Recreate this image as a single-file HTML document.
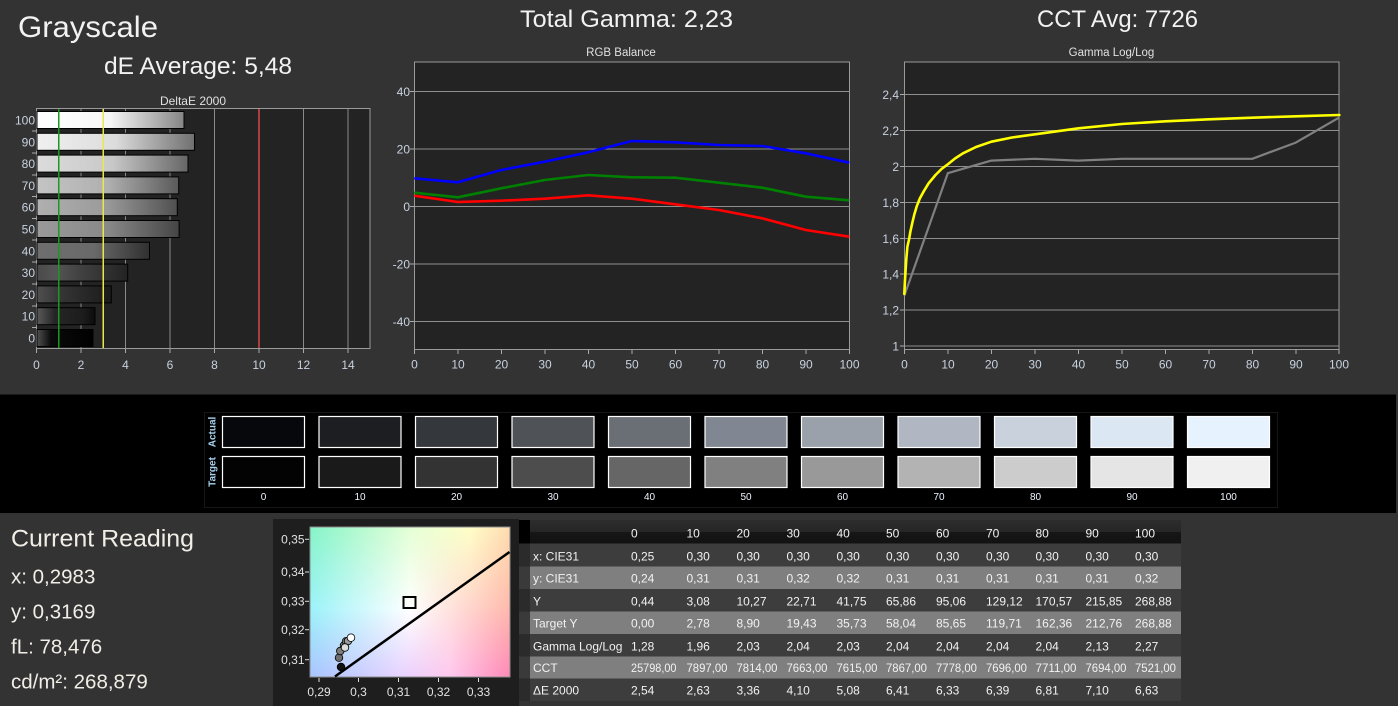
<!DOCTYPE html>
<html><head><meta charset="utf-8"><style>
html,body{margin:0;padding:0;background:#333;}
svg{display:block;font-family:"Liberation Sans",sans-serif;}
</style></head><body>
<svg width="1398" height="706" viewBox="0 0 1398 706" xmlns="http://www.w3.org/2000/svg">
<defs>
<linearGradient id="b0" x1="0" x2="1" y1="0" y2="0"><stop offset="0" stop-color="#ffffff"/><stop offset="0.5" stop-color="#f6f6f6"/><stop offset="1" stop-color="#858585"/></linearGradient>
<linearGradient id="b1" x1="0" x2="1" y1="0" y2="0"><stop offset="0" stop-color="#f0f0f0"/><stop offset="0.5" stop-color="#dcdcdc"/><stop offset="1" stop-color="#707070"/></linearGradient>
<linearGradient id="b2" x1="0" x2="1" y1="0" y2="0"><stop offset="0" stop-color="#dcdcdc"/><stop offset="0.5" stop-color="#c8c8c8"/><stop offset="1" stop-color="#666666"/></linearGradient>
<linearGradient id="b3" x1="0" x2="1" y1="0" y2="0"><stop offset="0" stop-color="#c4c4c4"/><stop offset="0.5" stop-color="#b0b0b0"/><stop offset="1" stop-color="#5a5a5a"/></linearGradient>
<linearGradient id="b4" x1="0" x2="1" y1="0" y2="0"><stop offset="0" stop-color="#b0b0b0"/><stop offset="0.5" stop-color="#9a9a9a"/><stop offset="1" stop-color="#505050"/></linearGradient>
<linearGradient id="b5" x1="0" x2="1" y1="0" y2="0"><stop offset="0" stop-color="#9a9a9a"/><stop offset="0.5" stop-color="#888888"/><stop offset="1" stop-color="#454545"/></linearGradient>
<linearGradient id="b6" x1="0" x2="1" y1="0" y2="0"><stop offset="0" stop-color="#6e6e6e"/><stop offset="0.5" stop-color="#6a6a6a"/><stop offset="1" stop-color="#303030"/></linearGradient>
<linearGradient id="b7" x1="0" x2="1" y1="0" y2="0"><stop offset="0" stop-color="#4a4a4a"/><stop offset="0.2" stop-color="#555555"/><stop offset="0.5" stop-color="#404040"/><stop offset="1" stop-color="#232323"/></linearGradient>
<linearGradient id="b8" x1="0" x2="1" y1="0" y2="0"><stop offset="0" stop-color="#505050"/><stop offset="0.3" stop-color="#363636"/><stop offset="1" stop-color="#1a1a1a"/></linearGradient>
<linearGradient id="b9" x1="0" x2="1" y1="0" y2="0"><stop offset="0" stop-color="#5a5a5a"/><stop offset="0.3" stop-color="#262626"/><stop offset="0.8" stop-color="#1c1c1c"/><stop offset="1" stop-color="#0c0c0c"/></linearGradient>
<linearGradient id="b10" x1="0" x2="1" y1="0" y2="0"><stop offset="0" stop-color="#505050"/><stop offset="0.25" stop-color="#0a0a0a"/><stop offset="1" stop-color="#000000"/></linearGradient>

<linearGradient id="cTop" x1="0" x2="1" y1="0" y2="0"><stop offset="0" stop-color="#86f5c8"/><stop offset="0.5" stop-color="#e4ffd6"/><stop offset="0.8" stop-color="#ffffc8"/><stop offset="1" stop-color="#ffdcb0"/></linearGradient>
<linearGradient id="cMid" x1="0" x2="1" y1="0" y2="0"><stop offset="0" stop-color="#9cf2fa"/><stop offset="0.5" stop-color="#ffffff"/><stop offset="1" stop-color="#ffb8ac"/></linearGradient>
<linearGradient id="cBot" x1="0" x2="1" y1="0" y2="0"><stop offset="0" stop-color="#a8c4ff"/><stop offset="0.45" stop-color="#e6d2ff"/><stop offset="0.7" stop-color="#ffc8ee"/><stop offset="1" stop-color="#ff88b6"/></linearGradient>
<linearGradient id="vMid" x1="0" x2="0" y1="0" y2="1"><stop offset="0" stop-color="#000"/><stop offset="0.55" stop-color="#fff"/><stop offset="1" stop-color="#fff"/></linearGradient>
<linearGradient id="vBot" x1="0" x2="0" y1="0" y2="1"><stop offset="0" stop-color="#000"/><stop offset="0.55" stop-color="#000"/><stop offset="1" stop-color="#fff"/></linearGradient>
<mask id="mMid"><rect x="310" y="527" width="200" height="150" fill="url(#vMid)"/></mask>
<mask id="mBot"><rect x="310" y="527" width="200" height="150" fill="url(#vBot)"/></mask>
<linearGradient id="hdr" x1="0" x2="0" y1="0" y2="1"><stop offset="0" stop-color="#2d2d2d"/><stop offset="0.5" stop-color="#262626"/><stop offset="0.52" stop-color="#161616"/><stop offset="1" stop-color="#121212"/></linearGradient>
</defs>

<rect width="1398" height="706" fill="#333"/>

<!-- Headings -->
<text x="18" y="37" font-size="30" fill="#f2f2f2" textLength="140" lengthAdjust="spacingAndGlyphs">Grayscale</text>
<text x="104" y="74" font-size="24" fill="#f2f2f2" textLength="188" lengthAdjust="spacingAndGlyphs">dE Average: 5,48</text>
<text x="520" y="27" font-size="24" fill="#f2f2f2" textLength="213" lengthAdjust="spacingAndGlyphs">Total Gamma: 2,23</text>
<text x="1037" y="27" font-size="24" fill="#f2f2f2" textLength="161" lengthAdjust="spacingAndGlyphs">CCT Avg: 7726</text>

<!-- DeltaE chart -->
<text x="193" y="105" font-size="12" fill="#e0e0e0" text-anchor="middle">DeltaE 2000</text>
<rect x="36.5" y="108.5" width="333.5" height="240" fill="#232323" stroke="#9a9a9a" stroke-width="1"/>
<g stroke="#8a8a8a" stroke-width="1">
<line x1="81" y1="109" x2="81" y2="348"/>
<line x1="125.5" y1="109" x2="125.5" y2="348"/>
<line x1="170" y1="109" x2="170" y2="348"/>
<line x1="214.5" y1="109" x2="214.5" y2="348"/>
<line x1="303.5" y1="109" x2="303.5" y2="348"/>
<line x1="348" y1="109" x2="348" y2="348"/>
</g>
<g stroke="#000" stroke-width="1">
<rect x="37" y="111.5" width="147" height="17" fill="url(#b0)"/>
<rect x="37" y="133.3" width="157.5" height="17" fill="url(#b1)"/>
<rect x="37" y="155.1" width="151" height="17" fill="url(#b2)"/>
<rect x="37" y="176.9" width="141.7" height="17" fill="url(#b3)"/>
<rect x="37" y="198.7" width="140.3" height="17" fill="url(#b4)"/>
<rect x="37" y="220.5" width="142.1" height="17" fill="url(#b5)"/>
<rect x="37" y="242.3" width="112.5" height="17" fill="url(#b6)"/>
<rect x="37" y="264.1" width="90.7" height="17" fill="url(#b7)"/>
<rect x="37" y="285.9" width="74.3" height="17" fill="url(#b8)"/>
<rect x="37" y="307.7" width="58" height="17" fill="url(#b9)"/>
<rect x="37" y="329.5" width="56" height="17" fill="url(#b10)"/>
</g>
<line x1="58.75" y1="109" x2="58.75" y2="348" stroke="#1a9a1a" stroke-width="1.5"/>
<line x1="103.25" y1="109" x2="103.25" y2="348" stroke="#e8e84a" stroke-width="1.5"/>
<line x1="259" y1="109" x2="259" y2="348" stroke="#d84848" stroke-width="1.5"/>
<g stroke="#aaa" stroke-width="1">
<line x1="36.5" y1="348.5" x2="36.5" y2="353"/><line x1="81" y1="348.5" x2="81" y2="353"/><line x1="125.5" y1="348.5" x2="125.5" y2="353"/><line x1="170" y1="348.5" x2="170" y2="353"/><line x1="214.5" y1="348.5" x2="214.5" y2="353"/><line x1="259" y1="348.5" x2="259" y2="353"/><line x1="303.5" y1="348.5" x2="303.5" y2="353"/><line x1="348" y1="348.5" x2="348" y2="353"/>
<line x1="32" y1="131" x2="36.5" y2="131"/><line x1="32" y1="153" x2="36.5" y2="153"/><line x1="32" y1="175" x2="36.5" y2="175"/><line x1="32" y1="196.5" x2="36.5" y2="196.5"/><line x1="32" y1="218.5" x2="36.5" y2="218.5"/><line x1="32" y1="240" x2="36.5" y2="240"/><line x1="32" y1="262" x2="36.5" y2="262"/><line x1="32" y1="284" x2="36.5" y2="284"/><line x1="32" y1="306" x2="36.5" y2="306"/><line x1="32" y1="327.5" x2="36.5" y2="327.5"/>
</g>
<g font-size="12" fill="#c8d2e0" text-anchor="end">
<text x="35" y="124.5">100</text><text x="35" y="146.3">90</text><text x="35" y="168.1">80</text><text x="35" y="189.9">70</text><text x="35" y="211.7">60</text><text x="35" y="233.5">50</text><text x="35" y="255.3">40</text><text x="35" y="277.1">30</text><text x="35" y="298.9">20</text><text x="35" y="320.7">10</text><text x="35" y="342.5">0</text>
</g>
<g font-size="12" fill="#c8d2e0" text-anchor="middle">
<text x="36.5" y="369">0</text><text x="81" y="369">2</text><text x="125.5" y="369">4</text><text x="170" y="369">6</text><text x="214.5" y="369">8</text><text x="259" y="369">10</text><text x="303.5" y="369">12</text><text x="348" y="369">14</text>
</g>

<!-- RGB Balance -->
<text x="621" y="56" font-size="11.5" fill="#e0e0e0" text-anchor="middle">RGB Balance</text>
<rect x="414.5" y="62" width="435" height="287.5" fill="#232323" stroke="#9a9a9a" stroke-width="1"/>
<g stroke="#8f8f8f" stroke-width="1">
<line x1="414.5" y1="91.5" x2="849.5" y2="91.5"/><line x1="414.5" y1="149" x2="849.5" y2="149"/><line x1="414.5" y1="206.5" x2="849.5" y2="206.5"/><line x1="414.5" y1="264" x2="849.5" y2="264"/><line x1="414.5" y1="321.5" x2="849.5" y2="321.5"/>
</g>
<g stroke="#aaa" stroke-width="1">
<line x1="410" y1="91.5" x2="414.5" y2="91.5"/><line x1="410" y1="149" x2="414.5" y2="149"/><line x1="410" y1="206.5" x2="414.5" y2="206.5"/><line x1="410" y1="264" x2="414.5" y2="264"/><line x1="410" y1="321.5" x2="414.5" y2="321.5"/>
<line x1="414.5" y1="349.5" x2="414.5" y2="354"/><line x1="458" y1="349.5" x2="458" y2="354"/><line x1="501.5" y1="349.5" x2="501.5" y2="354"/><line x1="545" y1="349.5" x2="545" y2="354"/><line x1="588.5" y1="349.5" x2="588.5" y2="354"/><line x1="632" y1="349.5" x2="632" y2="354"/><line x1="675.5" y1="349.5" x2="675.5" y2="354"/><line x1="719" y1="349.5" x2="719" y2="354"/><line x1="762.5" y1="349.5" x2="762.5" y2="354"/><line x1="806" y1="349.5" x2="806" y2="354"/><line x1="849.5" y1="349.5" x2="849.5" y2="354"/>
</g>
<g font-size="12" fill="#c8d2e0" text-anchor="end">
<text x="410" y="96">40</text><text x="410" y="153.5">20</text><text x="410" y="211">0</text><text x="410" y="268.5">-20</text><text x="410" y="326">-40</text>
</g>
<g font-size="12" fill="#c8d2e0" text-anchor="middle">
<text x="414.5" y="368.5">0</text><text x="458" y="368.5">10</text><text x="501.5" y="368.5">20</text><text x="545" y="368.5">30</text><text x="588.5" y="368.5">40</text><text x="632" y="368.5">50</text><text x="675.5" y="368.5">60</text><text x="719" y="368.5">70</text><text x="762.5" y="368.5">80</text><text x="806" y="368.5">90</text><text x="849.5" y="368.5">100</text>
</g>
<g fill="none" stroke-width="2.6" stroke-linejoin="round">
<polyline stroke="#0000ff" points="414.3,178.3 457.8,182.3 501.3,170 544.8,161.7 588.3,152.3 631.8,141 675.3,142.3 718.8,145 762.3,146 805.8,153.3 849.3,162.7"/>
<polyline stroke="#008000" points="414.3,192.7 457.8,197.3 501.3,188.3 544.8,180 588.3,175 631.8,177.3 675.3,177.7 718.8,182.7 762.3,187.7 805.8,196.7 849.3,200.3"/>
<polyline stroke="#ff0000" points="414.3,195.7 457.8,202 501.3,200.7 544.8,198.7 588.3,195.3 631.8,198.7 675.3,204.3 718.8,210 762.3,218.3 805.8,230 849.3,236.7"/>
</g>

<!-- Gamma chart -->
<text x="1111.5" y="56" font-size="11.5" fill="#e0e0e0" text-anchor="middle">Gamma Log/Log</text>
<rect x="904.5" y="62" width="434.5" height="287.5" fill="#232323" stroke="#9a9a9a" stroke-width="1"/>
<g stroke="#8f8f8f" stroke-width="1">
<line x1="904.5" y1="346" x2="1339" y2="346"/><line x1="904.5" y1="310" x2="1339" y2="310"/><line x1="904.5" y1="274" x2="1339" y2="274"/><line x1="904.5" y1="238.5" x2="1339" y2="238.5"/><line x1="904.5" y1="202.5" x2="1339" y2="202.5"/><line x1="904.5" y1="166.5" x2="1339" y2="166.5"/><line x1="904.5" y1="130.5" x2="1339" y2="130.5"/><line x1="904.5" y1="94.5" x2="1339" y2="94.5"/>
</g>
<g stroke="#aaa" stroke-width="1">
<line x1="900" y1="346" x2="904.5" y2="346"/><line x1="900" y1="310" x2="904.5" y2="310"/><line x1="900" y1="274" x2="904.5" y2="274"/><line x1="900" y1="238.5" x2="904.5" y2="238.5"/><line x1="900" y1="202.5" x2="904.5" y2="202.5"/><line x1="900" y1="166.5" x2="904.5" y2="166.5"/><line x1="900" y1="130.5" x2="904.5" y2="130.5"/><line x1="900" y1="94.5" x2="904.5" y2="94.5"/>
<line x1="904.5" y1="349.5" x2="904.5" y2="354"/><line x1="948" y1="349.5" x2="948" y2="354"/><line x1="991.5" y1="349.5" x2="991.5" y2="354"/><line x1="1035" y1="349.5" x2="1035" y2="354"/><line x1="1078.5" y1="349.5" x2="1078.5" y2="354"/><line x1="1122" y1="349.5" x2="1122" y2="354"/><line x1="1165.5" y1="349.5" x2="1165.5" y2="354"/><line x1="1209" y1="349.5" x2="1209" y2="354"/><line x1="1252.5" y1="349.5" x2="1252.5" y2="354"/><line x1="1296" y1="349.5" x2="1296" y2="354"/><line x1="1339" y1="349.5" x2="1339" y2="354"/>
</g>
<g font-size="12" fill="#c8d2e0" text-anchor="end">
<text x="899" y="350.5">1</text><text x="899" y="314.5">1,2</text><text x="899" y="278.5">1,4</text><text x="899" y="243">1,6</text><text x="899" y="207">1,8</text><text x="899" y="171">2</text><text x="899" y="135">2,2</text><text x="899" y="99">2,4</text>
</g>
<g font-size="12" fill="#c8d2e0" text-anchor="middle">
<text x="904.5" y="368.5">0</text><text x="948" y="368.5">10</text><text x="991.5" y="368.5">20</text><text x="1035" y="368.5">30</text><text x="1078.5" y="368.5">40</text><text x="1122" y="368.5">50</text><text x="1165.5" y="368.5">60</text><text x="1209" y="368.5">70</text><text x="1252.5" y="368.5">80</text><text x="1296" y="368.5">90</text><text x="1339" y="368.5">100</text>
</g>
<polyline fill="none" stroke="#808080" stroke-width="2.2" stroke-linejoin="round" points="904.3,295.6 947.8,173.2 991.3,160.6 1034.8,158.8 1078.3,160.6 1121.8,158.8 1165.3,158.8 1208.8,158.8 1252.3,158.8 1295.8,142.6 1339.3,117.4"/>
<polyline fill="none" stroke="#ffff00" stroke-width="2.6" stroke-linejoin="round" stroke-linecap="round" points="904.3,294 904.9,282 905.6,270 906.4,258 907.4,246.7 909.1,239 910.5,231 912.2,223.3 914.3,214.5 916.6,206.7 919.8,198.5 923.5,191.7 928.6,183.3 935.5,175 941.5,169 948.2,164 955,158.5 963,153.3 976,147 991.4,141.7 1012,137.5 1035,134.3 1078.6,128.3 1121.8,124 1165.4,121.3 1209,119.3 1252.6,117.7 1295.8,116.3 1339.4,115"/>

<!-- Swatch band -->
<rect x="0" y="394.5" width="1396" height="118.5" fill="#000"/>
<rect x="204.5" y="412.5" width="1073" height="95" fill="none" stroke="#161616" stroke-width="1"/>
<g font-size="10" font-weight="bold" fill="#a8d4ee" text-anchor="middle">
<text transform="translate(215.5,432) rotate(-90)">Actual</text>
<text transform="translate(215.5,472) rotate(-90)">Target</text>
</g>
<g stroke="#ffffff" stroke-width="1.2">
<rect x="222.5" y="416.5" width="82" height="31" fill="#06080c"/>
<rect x="319" y="416.5" width="82" height="31" fill="#1c1e21"/>
<rect x="415.5" y="416.5" width="82" height="31" fill="#34383c"/>
<rect x="512" y="416.5" width="82" height="31" fill="#4f5358"/>
<rect x="608.5" y="416.5" width="82" height="31" fill="#6a6e75"/>
<rect x="705" y="416.5" width="82" height="31" fill="#818792"/>
<rect x="801.5" y="416.5" width="82" height="31" fill="#9aa1ab"/>
<rect x="898" y="416.5" width="82" height="31" fill="#b0b7c3"/>
<rect x="994.5" y="416.5" width="82" height="31" fill="#c8d1dc"/>
<rect x="1091" y="416.5" width="82" height="31" fill="#dce7f4"/>
<rect x="1187.5" y="416.5" width="82" height="31" fill="#e6f2fd"/>
<rect x="222.5" y="456.5" width="82" height="31" fill="#030303"/>
<rect x="319" y="456.5" width="82" height="31" fill="#1a1a1a"/>
<rect x="415.5" y="456.5" width="82" height="31" fill="#333333"/>
<rect x="512" y="456.5" width="82" height="31" fill="#4d4d4d"/>
<rect x="608.5" y="456.5" width="82" height="31" fill="#666666"/>
<rect x="705" y="456.5" width="82" height="31" fill="#808080"/>
<rect x="801.5" y="456.5" width="82" height="31" fill="#999999"/>
<rect x="898" y="456.5" width="82" height="31" fill="#b3b3b3"/>
<rect x="994.5" y="456.5" width="82" height="31" fill="#cccccc"/>
<rect x="1091" y="456.5" width="82" height="31" fill="#e5e5e5"/>
<rect x="1187.5" y="456.5" width="82" height="31" fill="#f0f0f0"/>
</g>
<g font-size="10" fill="#eef6ff" text-anchor="middle">
<text x="263.5" y="500">0</text><text x="360" y="500">10</text><text x="456.5" y="500">20</text><text x="553" y="500">30</text><text x="649.5" y="500">40</text><text x="746" y="500">50</text><text x="842.5" y="500">60</text><text x="939" y="500">70</text><text x="1035.5" y="500">80</text><text x="1132" y="500">90</text><text x="1228.5" y="500">100</text>
</g>

<!-- Current reading -->
<g fill="#f0eee6">
<text x="11" y="546.7" font-size="24" textLength="183" lengthAdjust="spacingAndGlyphs">Current Reading</text>
<text x="11" y="583.3" font-size="20.5">x: 0,2983</text>
<text x="11" y="618.3" font-size="20.5">y: 0,3169</text>
<text x="11" y="653.3" font-size="20.5">fL: 78,476</text>
<text x="11" y="688.3" font-size="20.5">cd/m²: 268,879</text>
</g>

<!-- CIE panel -->
<rect x="273" y="519" width="246" height="187" fill="#1e1e1e"/>
<rect x="310" y="527" width="200" height="150" fill="url(#cTop)"/>
<rect x="310" y="527" width="200" height="150" fill="url(#cMid)" mask="url(#mMid)"/>
<rect x="310" y="527" width="200" height="150" fill="url(#cBot)" mask="url(#mBot)"/>
<rect x="310" y="527" width="200" height="150" fill="none" stroke="#8a8a8a" stroke-width="1"/>
<line x1="335" y1="676.5" x2="509.5" y2="552" stroke="#000" stroke-width="2.5"/>
<rect x="403.5" y="597" width="12" height="11" fill="none" stroke="#000" stroke-width="2"/>
<g stroke="#000" stroke-width="0.8">
<circle cx="341" cy="667" r="3.8" fill="#111"/>
<circle cx="339" cy="657.7" r="3.8" fill="#6e6e6e"/>
<circle cx="340.3" cy="651" r="3.8" fill="#7c7c7c"/>
<circle cx="344" cy="645.5" r="3.8" fill="#888"/>
<circle cx="346" cy="641.3" r="3.8" fill="#777"/>
<circle cx="348" cy="641" r="3.8" fill="#999"/>
<circle cx="345" cy="647.5" r="3.8" fill="#ddd"/>
<circle cx="351" cy="637.7" r="3.8" fill="#fff"/>
</g>
<g stroke="#ddd" stroke-width="1">
<line x1="305" y1="539.3" x2="309" y2="539.3"/><line x1="305" y1="572" x2="309" y2="572"/><line x1="305" y1="601.3" x2="309" y2="601.3"/><line x1="305" y1="629.7" x2="309" y2="629.7"/><line x1="305" y1="659.7" x2="309" y2="659.7"/>
<line x1="319" y1="678" x2="319" y2="682"/><line x1="358.5" y1="678" x2="358.5" y2="682"/><line x1="398.5" y1="678" x2="398.5" y2="682"/><line x1="438.5" y1="678" x2="438.5" y2="682"/><line x1="478.5" y1="678" x2="478.5" y2="682"/>
</g>
<g font-size="12" fill="#e2e2e2" text-anchor="end">
<text x="304.5" y="543.5">0,35</text><text x="304.5" y="576.2">0,34</text><text x="304.5" y="605.5">0,33</text><text x="304.5" y="634">0,32</text><text x="304.5" y="664">0,31</text>
</g>
<g font-size="12" fill="#e2e2e2" text-anchor="middle">
<text x="319" y="696">0,29</text><text x="358.5" y="696">0,3</text><text x="398.5" y="696">0,31</text><text x="438.5" y="696">0,32</text><text x="478.5" y="696">0,33</text>
</g>

<!-- Table -->
<rect x="519" y="520" width="11" height="23.5" fill="#000"/>
<rect x="530" y="520" width="651" height="23.5" fill="url(#hdr)"/>
<g>
<rect x="519" y="543.5" width="11" height="23" fill="#2b2b2b"/><rect x="530" y="543.5" width="651" height="23" fill="#3d3d3d"/>
<rect x="519" y="566.5" width="11" height="22.5" fill="#3a3a3a"/><rect x="530" y="566.5" width="651" height="22.5" fill="#7f7f7f"/>
<rect x="519" y="589" width="11" height="22.5" fill="#2b2b2b"/><rect x="530" y="589" width="651" height="22.5" fill="#3d3d3d"/>
<rect x="519" y="611.5" width="11" height="22.5" fill="#3a3a3a"/><rect x="530" y="611.5" width="651" height="22.5" fill="#7f7f7f"/>
<rect x="519" y="634" width="11" height="22.5" fill="#2b2b2b"/><rect x="530" y="634" width="651" height="22.5" fill="#3d3d3d"/>
<rect x="519" y="656.5" width="11" height="22" fill="#3a3a3a"/><rect x="530" y="656.5" width="651" height="22" fill="#7f7f7f"/>
<rect x="519" y="678.5" width="11" height="22.5" fill="#2b2b2b"/><rect x="530" y="678.5" width="651" height="22.5" fill="#3d3d3d"/>
</g>
<g font-size="12" fill="#f2f2f2">
<text x="631" y="537.5">0</text><text x="686.5" y="537.5">10</text><text x="736.5" y="537.5">20</text><text x="786.5" y="537.5">30</text><text x="836.5" y="537.5">40</text><text x="886" y="537.5">50</text><text x="936" y="537.5">60</text><text x="986" y="537.5">70</text><text x="1035.5" y="537.5">80</text><text x="1085.5" y="537.5">90</text><text x="1135" y="537.5">100</text>

<text x="533" y="560.3">x: CIE31</text>
<text x="631" y="560.3">0,25</text><text x="686.5" y="560.3">0,30</text><text x="736.5" y="560.3">0,30</text><text x="786.5" y="560.3">0,30</text><text x="836.5" y="560.3">0,30</text><text x="886" y="560.3">0,30</text><text x="936" y="560.3">0,30</text><text x="986" y="560.3">0,30</text><text x="1035.5" y="560.3">0,30</text><text x="1085.5" y="560.3">0,30</text><text x="1135" y="560.3">0,30</text>

<text x="533" y="582.6">y: CIE31</text>
<text x="631" y="582.6">0,24</text><text x="686.5" y="582.6">0,31</text><text x="736.5" y="582.6">0,31</text><text x="786.5" y="582.6">0,32</text><text x="836.5" y="582.6">0,32</text><text x="886" y="582.6">0,31</text><text x="936" y="582.6">0,31</text><text x="986" y="582.6">0,31</text><text x="1035.5" y="582.6">0,31</text><text x="1085.5" y="582.6">0,31</text><text x="1135" y="582.6">0,32</text>

<text x="533" y="605.3">Y</text>
<text x="631" y="605.3">0,44</text><text x="686.5" y="605.3">3,08</text><text x="736.5" y="605.3">10,27</text><text x="786.5" y="605.3">22,71</text><text x="836.5" y="605.3">41,75</text><text x="886" y="605.3">65,86</text><text x="936" y="605.3">95,06</text><text x="986" y="605.3">129,12</text><text x="1035.5" y="605.3">170,57</text><text x="1085.5" y="605.3">215,85</text><text x="1135" y="605.3">268,88</text>

<text x="533" y="627.6">Target Y</text>
<text x="631" y="627.6">0,00</text><text x="686.5" y="627.6">2,78</text><text x="736.5" y="627.6">8,90</text><text x="786.5" y="627.6">19,43</text><text x="836.5" y="627.6">35,73</text><text x="886" y="627.6">58,04</text><text x="936" y="627.6">85,65</text><text x="986" y="627.6">119,71</text><text x="1035.5" y="627.6">162,36</text><text x="1085.5" y="627.6">212,76</text><text x="1135" y="627.6">268,88</text>

<text x="533" y="650.3">Gamma Log/Log</text>
<text x="631" y="650.3">1,28</text><text x="686.5" y="650.3">1,96</text><text x="736.5" y="650.3">2,03</text><text x="786.5" y="650.3">2,04</text><text x="836.5" y="650.3">2,03</text><text x="886" y="650.3">2,04</text><text x="936" y="650.3">2,04</text><text x="986" y="650.3">2,04</text><text x="1035.5" y="650.3">2,04</text><text x="1085.5" y="650.3">2,13</text><text x="1135" y="650.3">2,27</text>

<text x="533" y="672">CCT</text>
<text x="631" y="672" textLength="45.5" lengthAdjust="spacingAndGlyphs">25798,00</text><text x="686.5" y="672" textLength="41" lengthAdjust="spacingAndGlyphs">7897,00</text><text x="736.5" y="672" textLength="41" lengthAdjust="spacingAndGlyphs">7814,00</text><text x="786.5" y="672" textLength="41" lengthAdjust="spacingAndGlyphs">7663,00</text><text x="836.5" y="672" textLength="41" lengthAdjust="spacingAndGlyphs">7615,00</text><text x="886" y="672" textLength="41" lengthAdjust="spacingAndGlyphs">7867,00</text><text x="936" y="672" textLength="41" lengthAdjust="spacingAndGlyphs">7778,00</text><text x="986" y="672" textLength="41" lengthAdjust="spacingAndGlyphs">7696,00</text><text x="1035.5" y="672" textLength="41" lengthAdjust="spacingAndGlyphs">7711,00</text><text x="1085.5" y="672" textLength="41" lengthAdjust="spacingAndGlyphs">7694,00</text><text x="1135" y="672" textLength="41" lengthAdjust="spacingAndGlyphs">7521,00</text>

<text x="533" y="694.3">ΔE 2000</text>
<text x="631" y="694.3">2,54</text><text x="686.5" y="694.3">2,63</text><text x="736.5" y="694.3">3,36</text><text x="786.5" y="694.3">4,10</text><text x="836.5" y="694.3">5,08</text><text x="886" y="694.3">6,41</text><text x="936" y="694.3">6,33</text><text x="986" y="694.3">6,39</text><text x="1035.5" y="694.3">6,81</text><text x="1085.5" y="694.3">7,10</text><text x="1135" y="694.3">6,63</text>
</g>
</svg>
</body></html>
